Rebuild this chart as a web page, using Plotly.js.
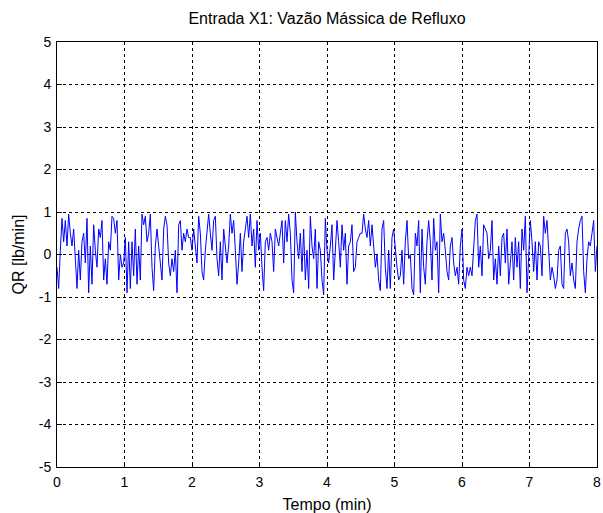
<!DOCTYPE html>
<html>
<head>
<meta charset="utf-8">
<script src="https://cdn.plot.ly/plotly-3.0.1.min.js"></script>
<style>html,body{margin:0;padding:0;background:#fff}#chart{width:603px;height:513px}</style>
</head>
<body>
<div id="chart"></div>
<script>
const qrSeg1 = [-0.3,-0.8,0.1,0.85,0.3,0.8,0.2,0.95,0.5,0.2,0.6,-0.1,-0.8,0.1,-0.6,0.3,0.5,-0.2,0.85,-0.9,0.2,-0.7,0.7,0.1,-0.3,0.6,0.4,0.8,-0.6,-0.1,-0.7,0.3,0.1,0.9,0.85,0.5,0.8,-0.6];
const qrSeg2 = [0.0,-0.3,-0.2,0.4,-0.9,0.3,-0.8,0.3,-0.5,0.6,-0.7,0.2,-0.6,0.95,0.7,0.9,0.3,0.5,0.95,-0.3,-0.85,0.2,0.6,0.2,-0.3,-0.6,0.6,0.9,0.7,-0.2,-0.5,-0.1,-0.4,0.1,-0.9,0.7,0.8,0.1,0.5,0.3,0.6,0.4];
const qrSeg3 = [0.4,0.1,0.6,0.2,-0.2,0.9,0.5,-0.4,-0.6,0.1,0.6,0.95,0.5,0.1,0.8,0.9,-0.1,-0.5,0.3,-0.6,0.6,0.2,-0.2,0.2,0.95,0.5,0.8,0.1,-0.7,-0.2,0.5,-0.4,0.3,0.6,0.9,0.4,0.95,0.2,0.6,-0.3,0.8,0.1];
const qrSeg4 = [0.5,-0.3,-0.85,0.3,0.4,0.1,0.5,0.3,-0.4,0.6,0.4,0.2,0.5,0.8,-0.2,0.8,0.3,0.95,0.5,-0.6,-0.9,1.0,0.3,-0.1,0.5,-0.4,0.6,-0.6,0.1,-0.8,0.9,0.2,-0.1,0.6,-0.8,0.3,0.1,-0.6,-0.95,0.85,0.1,-0.2];
const qrSeg5 = [0.2,0.7,-0.6,0.3,0.8,0.3,-0.3,0.7,0.1,0.5,-0.7,0.2,0.3,0.7,-0.4,-0.3,0.3,0.4,0.5,0.5,0.95,0.6,0.4,0.8,0.2,0.7,0.1,-0.3,0.0,-0.6,-0.85,0.6,0.8,-0.3,-0.8,0.1,-0.8,0.4,0.6,0.1,-0.3,-0.6];
const qrSeg6 = [-0.5,0.1,-0.7,0.3,0.8,-0.1,0.0,-0.8,-0.95,0.5,0.2,0.8,-0.9,0.6,-0.3,-0.7,0.3,0.8,0.3,-0.6,0.85,0.1,0.3,-0.9,0.95,0.3,0.5,0.1,-0.4,-0.6,0.2,0.4,-0.2,-0.5,-0.3,-0.7,0.2,0.6,-0.6,-0.8,-0.3,-0.5];
const qrSeg7 = [-0.3,-0.5,0.3,0.8,0.95,-0.3,0.2,-0.5,0.7,0.6,0.5,-0.1,0.1,0.8,-0.6,-0.1,-0.7,0.2,-0.5,0.4,0.5,-0.2,0.6,-0.7,-0.2,0.3,-0.6,0.4,-0.3,0.3,-0.8,0.6,0.1,0.9,-0.9,-0.2,0.8,0.3,-0.4,0.3,-0.6,0.3];
const qrSeg8 = [0.2,-0.5,0.9,0.5,0.8,0.1,-0.6,-0.3,-0.5,-0.8,-0.6,0.1,0.2,-0.7,-0.8,0.5,0.6,0.3,-0.5,-0.2,-0.6,-0.8,0.3,0.6,0.8,0.9,-0.4,-0.9,-0.1,0.3,0.2,0.5,0.8,-0.4,0.2];

const tStart = 0, tEnd = 8; // minutes
const xTicks = [0,1,2,3,4,5,6,7,8];
const yTicks = [-5,-4,-3,-2,-1,0,1,2,3,4,5];

const qr = [].concat(qrSeg1,qrSeg2,qrSeg3,qrSeg4,qrSeg5,qrSeg6,qrSeg7,qrSeg8);
const step = (tEnd - tStart) / (qr.length - 1);
const t = qr.map((_, i) => tStart + i * step);

const fam = 'Liberation Sans, Arial, sans-serif';
const tickFont = {family: fam, size: 14, color: '#000'};
const titleFont = {family: fam, size: 16, color: '#000'};

const axisCommon = {
  showline: true, mirror: true, linecolor: '#000', linewidth: 1,
  showgrid: true, gridcolor: '#000', gridwidth: 1, griddash: '3px,3px',
  zeroline: false, ticks: 'inside', ticklen: 5, tickcolor: '#000',
  tickfont: tickFont, automargin: false
};

Plotly.newPlot('chart', [{
  x: t, y: qr, type: 'scatter', mode: 'lines',
  line: {color: '#0000ff', width: 1}, hoverinfo: 'skip'
}], {
  width: 603, height: 513,
  margin: {l: 57, r: 6, t: 42, b: 46},
  paper_bgcolor: '#fff', plot_bgcolor: '#fff',
  showlegend: false,
  title: {text: 'Entrada X1: Vazão Mássica de Refluxo', font: titleFont, xref: 'paper', x: 0.5, xanchor: 'center', yref: 'container', y: 0.965, yanchor: 'middle'},
  xaxis: Object.assign({}, axisCommon, {
    range: [tStart, tEnd], tickvals: xTicks, ticktext: xTicks.map(String), ticklabelstandoff: 2,
    title: {text: 'Tempo (min)', font: titleFont, standoff: 10}
  }),
  yaxis: Object.assign({}, axisCommon, {
    range: [-5, 5], tickvals: yTicks, ticktext: yTicks.map(String), ticklabelstandoff: 2,
    title: {text: 'QR [lb/min]', font: titleFont, standoff: 10}
  })
}, {staticPlot: true, displayModeBar: false});
</script>
</body>
</html>
